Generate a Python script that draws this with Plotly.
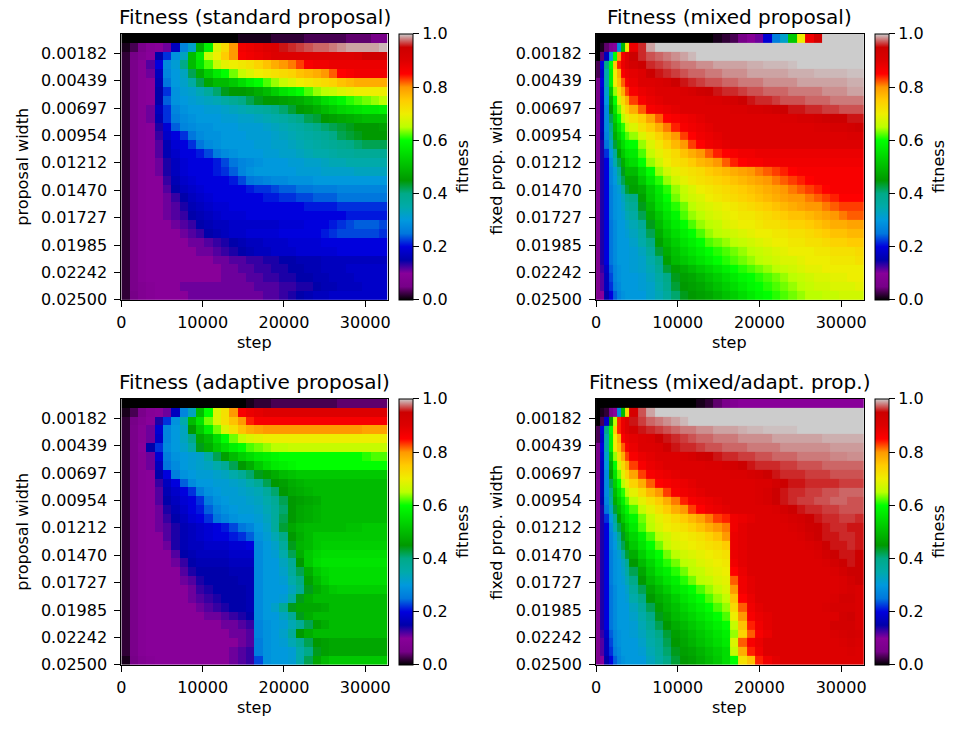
import plotly.graph_objects as go

# ---------------- data ----------------
ytick_vals = [0.00182, 0.00439, 0.00697, 0.00954, 0.01212, 0.01470, 0.01727, 0.01985, 0.02242, 0.02500]
ytick_text = ["0.00182", "0.00439", "0.00697", "0.00954", "0.01212", "0.01470", "0.01727", "0.01985", "0.02242", "0.02500"]
xtick_vals = [0, 10000, 20000, 30000]
cbar_ticks = [0.0, 0.2, 0.4, 0.6, 0.8, 1.0]
cbar_text = ["0.0", "0.2", "0.4", "0.6", "0.8", "1.0"]

n_rows = 30
width_max = 0.025
row_edges = [i * width_max / n_rows for i in range(n_rows + 1)]
step_edges_uniform = list(range(0, 32769, 1024))
step_edges_mixed = list(range(0, 4097, 512)) + list(range(5120, 32769, 1024))

standard = [
    [0,0,0,0,0,0,0,0,0,0,0,0,0,0,.01,.01,.01,.01,.02,.02,.02,.02,.03,.03,.03,.03,.03,.04,.04,.04,.05,.05],
    [.01,.03,.06,.09,.10,.11,.17,.27,.32,.48,.58,.68,.73,.80,.87,.88,.89,.90,.91,.955,.96,.965,.97,.975,.975,.98,.985,.99,.99,.99,.99,.995],
    [.02,.05,.08,.10,.15,.22,.29,.33,.50,.57,.66,.70,.75,.80,.86,.87,.88,.89,.90,.90,.90,.90,.90,.90,.90,.90,.90,.90,.91,.94,.94,.94],
    [.02,.06,.09,.12,.20,.28,.31,.40,.50,.56,.62,.66,.69,.70,.71,.72,.74,.76,.78,.80,.81,.83,.86,.87,.87,.88,.88,.88,.88,.88,.88,.88],
    [.02,.06,.09,.11,.17,.27,.30,.33,.42,.48,.53,.57,.60,.63,.66,.68,.70,.71,.72,.73,.74,.76,.77,.78,.80,.82,.85,.86,.87,.87,.87,.87],
    [.02,.06,.09,.10,.16,.25,.30,.32,.36,.42,.47,.50,.50,.52,.55,.58,.60,.62,.64,.66,.68,.70,.71,.72,.73,.74,.76,.77,.78,.78,.78,.78],
    [.02,.06,.09,.10,.15,.22,.29,.31,.32,.34,.37,.41,.44,.45,.45,.46,.48,.50,.53,.56,.58,.60,.62,.64,.65,.66,.68,.69,.70,.70,.70,.70],
    [.02,.06,.09,.10,.15,.24,.29,.30,.31,.32,.33,.34,.36,.38,.40,.42,.44,.45,.45,.46,.47,.48,.50,.52,.55,.57,.59,.61,.62,.63,.64,.65],
    [.02,.06,.09,.11,.17,.22,.27,.29,.30,.30,.31,.31,.32,.33,.34,.35,.36,.37,.39,.41,.43,.45,.46,.48,.50,.52,.54,.55,.56,.57,.57,.58],
    [.02,.06,.09,.11,.16,.22,.26,.28,.29,.30,.30,.30,.31,.31,.32,.32,.33,.34,.35,.36,.38,.40,.42,.43,.45,.46,.47,.48,.49,.50,.50,.50],
    [.02,.06,.09,.10,.14,.19,.24,.27,.28,.29,.29,.30,.30,.30,.31,.31,.31,.32,.33,.34,.35,.36,.38,.40,.41,.42,.43,.44,.45,.45,.45,.46],
    [.02,.06,.09,.10,.13,.18,.20,.22,.25,.28,.29,.29,.30,.30,.30,.31,.31,.31,.32,.33,.34,.35,.36,.37,.38,.40,.42,.43,.44,.45,.45,.45],
    [.02,.06,.09,.10,.12,.16,.19,.20,.22,.25,.28,.29,.30,.30,.30,.30,.31,.31,.32,.32,.33,.34,.35,.36,.37,.38,.39,.40,.41,.42,.42,.42],
    [.02,.06,.09,.10,.12,.16,.18,.20,.20,.21,.23,.26,.28,.29,.30,.30,.30,.31,.31,.32,.32,.33,.34,.35,.35,.36,.37,.37,.38,.38,.38,.38],
    [.02,.06,.09,.10,.11,.14,.17,.19,.20,.20,.20,.21,.23,.25,.27,.28,.29,.30,.30,.30,.31,.31,.32,.32,.33,.34,.34,.35,.35,.35,.35,.35],
    [.02,.06,.09,.10,.11,.14,.17,.19,.20,.20,.20,.21,.22,.24,.27,.29,.30,.30,.30,.30,.30,.31,.31,.31,.32,.32,.32,.32,.33,.33,.33,.33],
    [.02,.06,.09,.10,.10,.13,.16,.18,.19,.20,.20,.20,.20,.21,.23,.25,.26,.27,.28,.28,.29,.29,.29,.30,.30,.30,.30,.30,.30,.30,.30,.30],
    [.02,.06,.09,.10,.10,.12,.15,.17,.18,.19,.20,.20,.20,.20,.20,.21,.22,.22,.23,.24,.24,.25,.25,.26,.26,.26,.27,.27,.27,.27,.27,.27],
    [.02,.06,.09,.10,.10,.11,.13,.15,.17,.18,.19,.20,.20,.20,.20,.20,.20,.21,.21,.22,.22,.23,.23,.24,.24,.24,.25,.25,.25,.25,.25,.25],
    [.02,.06,.09,.10,.10,.11,.12,.14,.16,.17,.18,.19,.19,.20,.20,.20,.20,.20,.20,.20,.20,.20,.21,.21,.21,.21,.22,.22,.22,.22,.22,.22],
    [.02,.06,.09,.10,.10,.11,.12,.13,.15,.16,.17,.18,.19,.19,.19,.20,.20,.20,.20,.20,.20,.20,.20,.20,.20,.20,.20,.21,.21,.21,.21,.21],
    [.02,.06,.09,.10,.10,.10,.11,.12,.13,.15,.16,.17,.17,.18,.18,.18,.18,.18,.18,.19,.19,.19,.20,.20,.20,.21,.22,.23,.24,.24,.24,.23],
    [.02,.06,.09,.10,.10,.10,.10,.11,.12,.13,.15,.16,.17,.18,.18,.19,.19,.19,.19,.20,.20,.20,.20,.20,.21,.22,.23,.23,.23,.23,.23,.22],
    [.02,.06,.09,.10,.10,.10,.10,.10,.11,.11,.12,.13,.14,.15,.16,.17,.17,.18,.18,.18,.19,.19,.19,.19,.20,.20,.20,.20,.20,.20,.20,.20],
    [.02,.06,.09,.10,.10,.10,.10,.10,.10,.11,.11,.12,.13,.14,.15,.16,.17,.17,.18,.18,.18,.19,.19,.19,.19,.19,.20,.20,.20,.20,.20,.20],
    [.02,.06,.09,.10,.10,.10,.10,.10,.10,.10,.10,.11,.11,.12,.12,.13,.13,.14,.14,.15,.15,.16,.16,.16,.17,.17,.17,.17,.17,.17,.17,.17],
    [.02,.06,.09,.10,.10,.10,.10,.10,.10,.10,.10,.10,.11,.11,.12,.12,.13,.13,.14,.14,.15,.15,.16,.16,.17,.17,.17,.18,.18,.18,.18,.18],
    [.02,.06,.09,.10,.10,.10,.10,.10,.10,.10,.10,.10,.11,.11,.11,.12,.12,.13,.13,.14,.14,.15,.15,.16,.16,.17,.17,.17,.18,.18,.18,.18],
    [.02,.06,.08,.09,.10,.10,.10,.11,.11,.11,.11,.11,.11,.11,.11,.11,.12,.12,.12,.13,.13,.14,.14,.15,.16,.16,.17,.17,.17,.18,.18,.18],
    [.02,.05,.08,.09,.10,.10,.10,.10,.11,.11,.11,.11,.11,.11,.11,.11,.11,.12,.12,.13,.14,.15,.16,.17,.17,.18,.18,.18,.18,.18,.18,.18],
]

adaptive = [
    [0,0,0,0,0,0,0,0,0,0,0,0,0,0,0,.01,.02,.02,.03,.03,.03,.03,.03,.03,.03,.03,.04,.04,.04,.04,.04,.04],
    [.01,.03,.06,.09,.10,.11,.17,.27,.33,.50,.60,.68,.72,.80,.86,.88,.89,.90,.90,.90,.90,.90,.90,.90,.90,.90,.90,.90,.90,.90,.90,.90],
    [.02,.05,.08,.10,.14,.22,.29,.35,.50,.56,.63,.68,.72,.76,.80,.84,.86,.86,.86,.86,.86,.86,.86,.86,.86,.86,.86,.86,.86,.86,.86,.86],
    [.02,.06,.09,.11,.19,.27,.30,.33,.45,.52,.58,.63,.68,.72,.76,.78,.79,.80,.80,.80,.80,.80,.80,.80,.80,.80,.80,.80,.80,.79,.79,.79],
    [.02,.06,.09,.11,.18,.27,.30,.33,.40,.47,.50,.55,.60,.63,.66,.68,.69,.70,.70,.70,.70,.70,.70,.70,.70,.70,.70,.70,.70,.70,.70,.70],
    [.02,.06,.10,.15,.22,.28,.30,.32,.36,.44,.48,.52,.55,.58,.60,.62,.63,.64,.65,.65,.66,.66,.66,.66,.66,.66,.66,.66,.66,.66,.66,.66],
    [.02,.06,.09,.11,.19,.26,.29,.30,.31,.32,.36,.42,.46,.50,.53,.55,.57,.58,.59,.60,.60,.60,.60,.60,.60,.60,.60,.60,.60,.61,.62,.62],
    [.02,.06,.09,.11,.17,.25,.28,.30,.31,.32,.33,.35,.38,.42,.45,.48,.52,.55,.57,.58,.59,.60,.60,.60,.60,.60,.60,.60,.60,.60,.60,.60],
    [.02,.06,.09,.10,.15,.20,.26,.29,.30,.31,.31,.32,.33,.35,.38,.41,.44,.46,.48,.50,.51,.52,.52,.52,.52,.52,.52,.52,.52,.52,.52,.52],
    [.02,.06,.09,.10,.13,.17,.20,.24,.28,.30,.30,.31,.31,.32,.33,.35,.38,.42,.45,.46,.48,.49,.50,.50,.50,.50,.50,.50,.50,.50,.50,.50],
    [.02,.06,.09,.10,.12,.16,.18,.20,.22,.26,.29,.30,.31,.31,.32,.33,.34,.37,.41,.45,.47,.48,.49,.50,.50,.50,.50,.50,.50,.50,.50,.50],
    [.02,.06,.09,.10,.12,.15,.17,.19,.20,.22,.26,.29,.30,.31,.31,.32,.33,.35,.38,.42,.45,.46,.47,.48,.50,.50,.50,.50,.50,.50,.50,.50],
    [.02,.06,.09,.10,.11,.14,.16,.18,.20,.21,.24,.27,.29,.30,.31,.31,.32,.34,.37,.41,.45,.47,.48,.49,.50,.50,.50,.50,.50,.50,.50,.50],
    [.02,.06,.09,.10,.11,.13,.15,.17,.19,.20,.22,.25,.27,.29,.30,.30,.31,.33,.37,.42,.45,.47,.48,.49,.50,.50,.50,.50,.50,.50,.50,.50],
    [.02,.06,.09,.10,.11,.12,.14,.16,.17,.18,.19,.20,.21,.23,.25,.27,.30,.32,.37,.43,.47,.49,.50,.50,.50,.50,.50,.51,.51,.52,.52,.52],
    [.02,.06,.09,.10,.10,.12,.14,.16,.17,.18,.19,.20,.20,.21,.22,.24,.29,.31,.34,.40,.45,.48,.50,.52,.52,.52,.52,.52,.52,.52,.52,.52],
    [.02,.06,.09,.10,.10,.11,.14,.16,.17,.17,.18,.18,.18,.19,.19,.20,.28,.30,.32,.37,.44,.49,.50,.52,.53,.53,.53,.53,.53,.53,.53,.53],
    [.02,.06,.09,.10,.10,.10,.12,.15,.16,.17,.17,.17,.17,.18,.18,.18,.28,.30,.31,.35,.42,.48,.52,.54,.55,.55,.55,.55,.55,.55,.55,.55],
    [.02,.06,.09,.10,.10,.10,.11,.13,.15,.16,.16,.16,.16,.17,.17,.17,.28,.30,.30,.33,.38,.45,.52,.55,.56,.56,.56,.56,.56,.56,.56,.56],
    [.02,.06,.09,.10,.10,.10,.10,.12,.14,.15,.15,.15,.15,.16,.16,.16,.28,.30,.30,.32,.37,.42,.48,.52,.54,.55,.55,.55,.55,.55,.55,.55],
    [.02,.06,.09,.10,.10,.10,.10,.11,.12,.14,.15,.15,.15,.15,.16,.16,.28,.30,.30,.31,.35,.40,.46,.50,.53,.55,.55,.55,.55,.55,.55,.55],
    [.02,.06,.09,.10,.10,.10,.10,.10,.11,.13,.14,.15,.15,.15,.15,.16,.28,.30,.30,.30,.33,.38,.44,.48,.50,.52,.53,.53,.53,.53,.53,.53],
    [.02,.06,.09,.10,.10,.10,.10,.10,.11,.12,.13,.14,.15,.15,.15,.16,.28,.30,.30,.31,.36,.44,.48,.50,.50,.50,.50,.50,.50,.50,.50,.50],
    [.02,.06,.09,.10,.10,.10,.10,.10,.10,.11,.12,.13,.14,.15,.15,.16,.28,.30,.32,.38,.44,.47,.47,.47,.48,.50,.50,.50,.50,.50,.50,.50],
    [.02,.06,.09,.10,.10,.10,.10,.10,.10,.10,.11,.11,.12,.13,.14,.15,.28,.30,.30,.33,.38,.44,.48,.50,.50,.50,.50,.50,.50,.50,.50,.50],
    [.02,.06,.09,.10,.10,.10,.10,.10,.10,.10,.10,.10,.11,.11,.12,.13,.27,.29,.30,.31,.34,.38,.42,.46,.48,.50,.50,.50,.50,.50,.50,.50],
    [.02,.06,.09,.10,.10,.10,.10,.10,.10,.10,.10,.10,.10,.11,.11,.12,.27,.29,.30,.32,.37,.45,.48,.50,.50,.50,.50,.50,.50,.50,.50,.50],
    [.02,.06,.09,.10,.10,.10,.10,.10,.10,.10,.10,.10,.10,.10,.11,.12,.26,.29,.30,.31,.34,.38,.42,.45,.46,.47,.47,.47,.47,.47,.47,.47],
    [.02,.06,.09,.10,.10,.10,.10,.10,.10,.10,.10,.10,.10,.11,.12,.13,.26,.29,.30,.30,.31,.35,.40,.44,.46,.47,.47,.47,.47,.47,.47,.47],
    [.01,.05,.08,.09,.10,.10,.10,.10,.10,.10,.10,.10,.10,.11,.12,.13,.23,.29,.30,.30,.31,.35,.42,.47,.50,.52,.52,.52,.52,.52,.52,.52],
]

mixed = [
    [0,0,0,0,0,0,0,0, 0,0,0,0,0,0,0,0,0,0,.01,.02,.03,.05,.09,.11,.19,.26,.32,.52,.70,.87,.93,1,1,1,1,1],
    [0,.01,.04,.08,.10,.28,.50,.70, .88,.96,.99,1,1,1,1,1,1,1,1,1,1,1,1,1,1,1,1,1,1,1,1,1,1,1,1,1],
    [0,.04,.17,.30,.60,.80,.87,.90, .95,.96,.97,.975,.98,.985,.99,.995,1,1,1,1,1,1,1,1,1,1,1,1,1,1,1,1,1,1,1,1],
    [.03,.20,.40,.60,.75,.84,.88,.90, .93,.95,.96,.965,.97,.975,.98,.98,.985,.985,.99,.99,.99,.99,.993,.993,.995,.995,.995,.997,1,1,1,1,1,1,1,1],
    [.03,.18,.35,.58,.70,.78,.86,.88, .89,.90,.95,.955,.96,.965,.97,.975,.975,.98,.98,.985,.985,.985,.99,.99,.99,.99,.99,.993,.993,.993,.995,.995,.995,.995,.997,.997],
    [.05,.20,.35,.58,.70,.76,.82,.86, .88,.90,.90,.91,.92,.95,.955,.96,.965,.97,.97,.975,.975,.98,.98,.98,.985,.985,.985,.985,.99,.99,.99,.99,.99,.99,.993,.993],
    [.05,.18,.32,.52,.64,.72,.78,.83, .86,.88,.89,.90,.90,.90,.91,.92,.94,.95,.955,.96,.96,.965,.97,.97,.975,.975,.975,.98,.98,.98,.98,.985,.985,.985,.99,.99],
    [.05,.17,.30,.48,.60,.67,.73,.78, .83,.86,.88,.89,.90,.90,.90,.90,.90,.91,.91,.92,.93,.95,.955,.96,.96,.965,.97,.97,.97,.975,.975,.975,.98,.98,.98,.98],
    [.06,.16,.28,.45,.56,.63,.69,.74, .78,.82,.86,.87,.88,.89,.90,.90,.90,.90,.90,.90,.91,.91,.92,.92,.93,.94,.95,.955,.955,.96,.96,.965,.965,.97,.97,.97],
    [.07,.16,.28,.42,.53,.60,.65,.69, .72,.75,.79,.82,.85,.86,.87,.88,.89,.90,.90,.90,.90,.90,.90,.90,.90,.90,.91,.91,.92,.92,.93,.94,.95,.95,.955,.955],
    [.07,.16,.28,.40,.50,.56,.61,.65, .68,.72,.75,.78,.81,.84,.86,.87,.88,.89,.90,.90,.90,.90,.90,.90,.90,.90,.90,.90,.90,.90,.91,.91,.92,.92,.93,.94],
    [.07,.15,.27,.37,.48,.53,.58,.62, .64,.68,.71,.74,.77,.80,.83,.85,.87,.88,.89,.90,.90,.90,.90,.90,.90,.90,.90,.90,.90,.90,.90,.90,.90,.90,.91,.91],
    [.07,.14,.25,.33,.43,.50,.55,.59, .60,.64,.68,.71,.74,.77,.80,.83,.85,.87,.88,.89,.90,.90,.90,.90,.90,.90,.90,.90,.90,.90,.90,.90,.90,.90,.90,.90],
    [.07,.14,.22,.30,.38,.46,.52,.56, .57,.62,.66,.69,.71,.73,.76,.78,.80,.82,.84,.85,.86,.87,.87,.88,.88,.88,.88,.88,.88,.88,.88,.88,.88,.88,.88,.88],
    [.07,.14,.20,.28,.35,.42,.48,.53, .55,.60,.64,.67,.70,.72,.73,.75,.77,.78,.80,.82,.84,.85,.86,.86,.87,.87,.87,.87,.87,.87,.87,.87,.87,.87,.87,.87],
    [.07,.14,.20,.27,.31,.38,.44,.50, .50,.55,.60,.64,.67,.69,.71,.72,.73,.75,.76,.77,.78,.79,.80,.81,.82,.83,.84,.85,.86,.86,.86,.86,.86,.86,.86,.86],
    [.07,.14,.20,.27,.30,.35,.42,.47, .47,.52,.57,.61,.64,.67,.69,.71,.72,.73,.74,.75,.76,.77,.78,.79,.80,.81,.82,.83,.84,.85,.86,.86,.86,.86,.86,.86],
    [.07,.14,.20,.26,.29,.31,.37,.43, .46,.48,.53,.57,.61,.64,.66,.68,.70,.71,.72,.73,.74,.75,.76,.77,.78,.79,.80,.81,.82,.83,.84,.85,.86,.86,.86,.86],
    [.07,.14,.20,.26,.29,.30,.33,.38, .40,.46,.52,.56,.60,.63,.65,.67,.68,.70,.71,.72,.73,.74,.75,.76,.77,.78,.79,.80,.80,.81,.82,.83,.84,.85,.85,.85],
    [.07,.14,.20,.26,.29,.30,.32,.36, .38,.44,.50,.55,.58,.61,.63,.65,.67,.68,.69,.70,.71,.72,.73,.74,.75,.76,.77,.78,.79,.80,.80,.81,.82,.83,.83,.83],
    [.07,.14,.20,.26,.29,.30,.31,.34, .36,.42,.48,.52,.56,.59,.62,.64,.65,.67,.68,.69,.70,.71,.71,.72,.73,.74,.75,.76,.76,.77,.78,.79,.80,.81,.82,.82],
    [.07,.14,.20,.25,.28,.30,.30,.32, .34,.38,.44,.50,.54,.57,.60,.62,.64,.65,.66,.68,.69,.70,.70,.71,.72,.72,.73,.74,.74,.75,.76,.77,.78,.78,.79,.79],
    [.07,.14,.20,.25,.28,.30,.30,.31, .33,.36,.42,.48,.52,.55,.58,.60,.62,.64,.65,.66,.67,.68,.69,.70,.70,.71,.71,.72,.72,.73,.74,.75,.76,.76,.77,.77],
    [.07,.14,.20,.25,.28,.30,.30,.30, .32,.35,.40,.46,.50,.53,.56,.58,.60,.62,.63,.64,.65,.66,.67,.68,.69,.70,.70,.71,.71,.72,.72,.73,.74,.74,.75,.75],
    [.07,.14,.20,.25,.28,.30,.30,.30, .31,.33,.37,.43,.48,.51,.54,.56,.58,.60,.61,.62,.63,.64,.65,.66,.67,.68,.69,.70,.70,.70,.71,.71,.72,.72,.72,.73],
    [.07,.14,.20,.25,.28,.30,.30,.30, .31,.32,.35,.40,.46,.50,.52,.54,.56,.58,.60,.61,.62,.63,.64,.65,.66,.67,.68,.68,.69,.70,.70,.70,.71,.71,.71,.72],
    [.07,.13,.18,.24,.27,.29,.30,.30, .31,.32,.34,.38,.43,.46,.48,.50,.52,.54,.56,.58,.60,.61,.62,.63,.64,.65,.66,.67,.68,.69,.69,.70,.70,.70,.70,.70],
    [.07,.12,.17,.23,.27,.29,.30,.30, .30,.31,.33,.36,.40,.44,.46,.47,.49,.51,.53,.55,.57,.59,.60,.61,.62,.63,.64,.65,.66,.67,.68,.68,.69,.69,.70,.70],
    [.07,.12,.17,.22,.26,.28,.30,.30, .30,.31,.32,.35,.39,.43,.45,.46,.47,.49,.51,.53,.55,.57,.59,.60,.61,.62,.63,.64,.65,.66,.67,.67,.68,.68,.68,.69],
    [.07,.10,.15,.20,.24,.27,.29,.30, .30,.30,.32,.34,.37,.41,.44,.45,.46,.47,.49,.51,.53,.55,.57,.59,.60,.61,.62,.63,.64,.65,.65,.66,.66,.67,.67,.67],
]

mixed_adaptive = [
    [0,0,0,0,0,0,0,0, 0,0,0,0,0,0,0,0,.01,.02,.04,.06,.08,.10,.10,.10,.10,.10,.10,.10,.10,.10,.10,.10,.10,.10,.10,.10],
    [0,.01,.02,.06,.10,.28,.50,.72, .92,.97,.99,1,1,1,1,1,1,1,1,1,1,1,1,1,1,1,1,1,1,1,1,1,1,1,1,1],
    [0,.03,.18,.45,.65,.84,.88,.90, .955,.965,.975,.98,.985,.99,.995,1,1,1,1,1,1,1,1,1,1,1,1,1,1,1,1,1,1,1,1,1],
    [.03,.20,.40,.60,.75,.84,.88,.90, .93,.955,.96,.965,.97,.975,.98,.98,.985,.985,.99,.99,.99,.993,.995,.995,.997,.997,.997,.997,1,1,1,1,1,1,1,1],
    [.03,.18,.35,.58,.70,.78,.86,.88, .89,.90,.91,.95,.955,.96,.965,.97,.975,.975,.98,.98,.98,.985,.985,.985,.985,.99,.99,.99,.99,.99,.99,.993,.993,.993,.993,.993],
    [.05,.20,.35,.58,.70,.76,.82,.86, .88,.90,.90,.91,.94,.955,.96,.96,.965,.97,.97,.975,.975,.975,.98,.98,.98,.98,.985,.985,.985,.985,.985,.985,.988,.988,.988,.988],
    [.05,.18,.32,.52,.64,.72,.78,.83, .86,.88,.89,.90,.90,.90,.91,.92,.94,.95,.955,.96,.96,.965,.965,.97,.97,.975,.975,.975,.98,.98,.98,.98,.983,.983,.985,.985],
    [.05,.17,.30,.48,.60,.67,.73,.78, .83,.86,.88,.89,.90,.90,.90,.90,.90,.91,.91,.92,.93,.95,.955,.96,.96,.96,.965,.965,.97,.97,.97,.975,.975,.975,.975,.975],
    [.06,.16,.28,.45,.56,.63,.69,.74, .79,.83,.86,.87,.88,.89,.90,.90,.90,.90,.90,.90,.91,.91,.92,.93,.95,.955,.96,.96,.96,.965,.965,.965,.97,.97,.97,.97],
    [.07,.16,.28,.42,.53,.60,.65,.69, .74,.78,.82,.85,.86,.87,.88,.89,.90,.90,.90,.90,.90,.90,.90,.91,.91,.93,.95,.955,.955,.96,.96,.96,.96,.965,.965,.965],
    [.07,.16,.28,.40,.50,.56,.61,.65, .69,.73,.77,.80,.83,.86,.87,.88,.89,.90,.90,.90,.90,.90,.90,.91,.92,.95,.955,.96,.96,.965,.965,.97,.97,.975,.975,.975],
    [.07,.15,.27,.37,.48,.53,.58,.62, .65,.69,.72,.75,.78,.81,.84,.86,.87,.88,.89,.90,.90,.90,.90,.91,.92,.95,.955,.96,.965,.965,.97,.97,.975,.975,.97,.97],
    [.07,.14,.25,.33,.43,.50,.55,.59, .62,.66,.69,.72,.75,.78,.80,.83,.85,.87,.88,.89,.90,.90,.90,.90,.90,.91,.93,.95,.955,.96,.96,.965,.965,.97,.97,.97],
    [.07,.14,.22,.30,.38,.46,.52,.56, .59,.63,.66,.69,.71,.73,.75,.77,.79,.81,.83,.84,.87,.88,.89,.90,.90,.90,.91,.92,.93,.95,.955,.96,.96,.965,.965,.96],
    [.07,.14,.20,.28,.35,.42,.48,.53, .57,.62,.65,.68,.70,.71,.72,.74,.76,.78,.80,.81,.87,.89,.90,.90,.90,.90,.90,.91,.92,.94,.95,.955,.96,.96,.955,.955],
    [.07,.14,.20,.27,.31,.38,.44,.50, .54,.58,.62,.65,.67,.69,.70,.71,.72,.74,.76,.80,.88,.89,.90,.90,.90,.90,.90,.90,.91,.93,.95,.955,.955,.96,.96,.955],
    [.07,.14,.20,.27,.30,.35,.42,.47, .52,.56,.60,.63,.66,.68,.69,.70,.71,.72,.73,.75,.88,.89,.90,.90,.90,.90,.90,.90,.90,.91,.92,.95,.955,.955,.96,.955],
    [.07,.14,.20,.26,.29,.31,.37,.43, .48,.53,.57,.60,.63,.65,.67,.68,.69,.70,.71,.72,.88,.89,.90,.90,.90,.90,.90,.90,.90,.90,.91,.93,.95,.955,.955,.95],
    [.07,.14,.20,.26,.29,.30,.33,.38, .45,.50,.54,.58,.61,.63,.65,.66,.68,.69,.70,.71,.87,.89,.90,.90,.90,.90,.90,.90,.90,.90,.90,.91,.93,.95,.955,.95],
    [.07,.14,.20,.26,.29,.30,.32,.36, .42,.47,.52,.56,.58,.61,.63,.65,.66,.68,.69,.70,.85,.88,.90,.90,.90,.90,.90,.90,.90,.90,.90,.90,.91,.93,.95,.95],
    [.07,.14,.20,.26,.29,.30,.31,.34, .40,.45,.50,.53,.56,.58,.61,.63,.65,.66,.68,.69,.82,.87,.89,.90,.90,.90,.90,.90,.90,.90,.90,.90,.90,.91,.93,.95],
    [.07,.14,.20,.25,.28,.30,.30,.32, .37,.42,.47,.50,.53,.56,.58,.60,.62,.64,.66,.68,.80,.87,.89,.90,.90,.90,.90,.90,.90,.90,.90,.90,.90,.91,.92,.91],
    [.07,.14,.20,.25,.28,.30,.30,.31, .35,.40,.45,.48,.50,.53,.56,.58,.60,.62,.64,.66,.76,.85,.88,.90,.90,.90,.90,.90,.90,.90,.90,.90,.91,.93,.93,.91],
    [.07,.14,.20,.25,.28,.30,.30,.30, .33,.37,.42,.46,.49,.51,.54,.56,.58,.60,.62,.64,.73,.82,.87,.89,.90,.90,.90,.90,.90,.90,.90,.91,.92,.92,.92,.91],
    [.07,.14,.20,.25,.28,.30,.30,.30, .32,.35,.40,.44,.47,.50,.52,.54,.56,.58,.60,.62,.70,.80,.86,.88,.89,.90,.90,.90,.90,.90,.90,.90,.90,.93,.94,.91],
    [.07,.14,.20,.25,.28,.30,.30,.30, .31,.34,.38,.42,.45,.48,.50,.52,.54,.56,.58,.60,.66,.76,.84,.87,.89,.90,.90,.90,.90,.90,.90,.90,.93,.93,.93,.91],
    [.07,.13,.18,.24,.27,.29,.30,.30, .31,.33,.36,.40,.43,.46,.48,.50,.52,.54,.56,.58,.64,.74,.82,.86,.88,.90,.90,.90,.90,.90,.90,.90,.91,.92,.93,.92],
    [.07,.12,.17,.23,.27,.29,.30,.30, .30,.32,.35,.38,.42,.45,.47,.49,.51,.53,.55,.57,.68,.82,.86,.88,.90,.90,.90,.90,.90,.90,.90,.90,.90,.91,.92,.91],
    [.07,.12,.17,.22,.26,.28,.30,.30, .30,.31,.34,.37,.41,.44,.46,.47,.49,.51,.53,.55,.66,.78,.84,.87,.90,.90,.90,.90,.90,.90,.90,.90,.90,.90,.91,.90],
    [.07,.10,.15,.20,.24,.27,.29,.30, .30,.30,.33,.36,.40,.43,.45,.46,.48,.50,.52,.55,.60,.72,.76,.84,.87,.89,.90,.90,.90,.90,.90,.90,.90,.90,.90,.90],
]

titles = ["Fitness (standard proposal)", "Fitness (mixed proposal)",
          "Fitness (adaptive proposal)", "Fitness (mixed/adapt. prop.)"]
ylabels = ["proposal width", "fixed prop. width", "proposal width", "fixed prop. width"]

# matplotlib nipy_spectral
nipy_spectral = [
    [0.00, "rgb(0,0,0)"], [0.05, "rgb(119,0,136)"], [0.10, "rgb(136,0,153)"],
    [0.15, "rgb(0,0,170)"], [0.20, "rgb(0,0,221)"], [0.25, "rgb(0,119,221)"],
    [0.30, "rgb(0,153,221)"], [0.35, "rgb(0,170,170)"], [0.40, "rgb(0,170,136)"],
    [0.45, "rgb(0,153,0)"], [0.50, "rgb(0,187,0)"], [0.55, "rgb(0,221,0)"],
    [0.60, "rgb(0,255,0)"], [0.65, "rgb(187,255,0)"], [0.70, "rgb(238,238,0)"],
    [0.75, "rgb(255,204,0)"], [0.80, "rgb(255,153,0)"], [0.85, "rgb(255,0,0)"],
    [0.90, "rgb(221,0,0)"], [0.95, "rgb(204,0,0)"], [1.00, "rgb(204,204,204)"],
]

# ---------------- layout geometry (page pixels) ----------------
W, H = 957, 737
FONT = "DejaVu Sans"
TICK_SIZE = 16
TITLE_SIZE = 20

def fx(px):
    return px / W

def fy(py):
    return 1 - py / H

panels = [
    dict(z=standard, x=step_edges_uniform, l=117.3, r=386.0, t=34.3, b=304.0, cb=397.7, ylab=18, cbt=462),
    dict(z=mixed, x=step_edges_mixed, l=596.0, r=866.0, t=34.3, b=304.0, cb=877.7, ylab=496, cbt=942),
    dict(z=adaptive, x=step_edges_uniform, l=117.3, r=386.0, t=404.3, b=674.0, cb=397.7, ylab=18, cbt=462),
    dict(z=mixed_adaptive, x=step_edges_mixed, l=596.0, r=866.0, t=404.3, b=674.0, cb=877.7, ylab=496, cbt=942),
]

fig = go.Figure()
annotations = []
tickfont = dict(family=FONT, size=TICK_SIZE, color="black")

for i, p in enumerate(panels):
    k = "" if i == 0 else str(i + 1)
    fig.add_trace(go.Heatmap(
        z=p["z"], x=p["x"], y=row_edges,
        xaxis="x" + k, yaxis="y" + k,
        colorscale=nipy_spectral, zmin=0, zmax=1,
        hoverinfo="skip",
        colorbar=dict(
            x=fx(p["cb"]), xanchor="left",
            y=fy((p["t"] + p["b"]) / 2), yanchor="middle",
            len=(p["b"] - p["t"]) / H, lenmode="fraction",
            thickness=14, thicknessmode="pixels",
            xpad=0, ypad=0,
            outlinewidth=1, outlinecolor="black",
            tickvals=cbar_ticks, ticktext=cbar_text,
            ticks="outside", ticklen=6, tickwidth=1, tickcolor="black",
            tickfont=tickfont,
        ),
    ))
    axstyle = dict(showline=True, linecolor="black", linewidth=1, mirror=True,
                   ticks="outside", ticklen=6, tickwidth=1, tickcolor="black",
                   showgrid=False, zeroline=False, tickfont=tickfont)
    fig.layout["xaxis" + k] = dict(domain=[fx(p["l"]), fx(p["r"])], anchor="y" + k,
                                   range=[0, 32768], tickvals=xtick_vals,
                                   ticktext=[str(v) for v in xtick_vals],
                                   ticklabelstandoff=2, **axstyle)
    fig.layout["yaxis" + k] = dict(domain=[fy(p["b"]), fy(p["t"])], anchor="x" + k,
                                   range=[width_max, 0], tickvals=ytick_vals,
                                   ticktext=ytick_text, ticklabelstandoff=4, **axstyle)
    cx = (p["l"] + p["r"]) / 2
    cy = (p["t"] + p["b"]) / 2
    annotations.append(dict(text=titles[i], x=fx(cx), y=fy(p["t"] - 17), xref="paper", yref="paper",
                            xanchor="center", yanchor="middle", showarrow=False,
                            font=dict(family=FONT, size=TITLE_SIZE, color="black")))
    annotations.append(dict(text="step", x=fx(cx), y=fy(p["b"] + 43), xref="paper", yref="paper",
                            xanchor="center", yanchor="middle", showarrow=False,
                            font=dict(family=FONT, size=TICK_SIZE, color="black")))
    annotations.append(dict(text=ylabels[i], x=fx(p["ylab"]), y=fy(cy), xref="paper", yref="paper",
                            xanchor="center", yanchor="middle", showarrow=False, textangle=-90,
                            font=dict(family=FONT, size=TICK_SIZE, color="black")))
    annotations.append(dict(text="fitness", x=fx(p["cbt"]), y=fy(cy), xref="paper", yref="paper",
                            xanchor="center", yanchor="middle", showarrow=False, textangle=-90,
                            font=dict(family=FONT, size=TICK_SIZE, color="black")))

fig.update_layout(
    width=W, height=H,
    margin=dict(l=0, r=0, t=0, b=0),
    paper_bgcolor="white", plot_bgcolor="white",
    annotations=annotations,
    showlegend=False,
)

# the page's default 8px body margin would shift the figure; remove it
fig.write_html("out.html", config={"displayModeBar": False},
               post_script="document.body.style.margin='0px';")
